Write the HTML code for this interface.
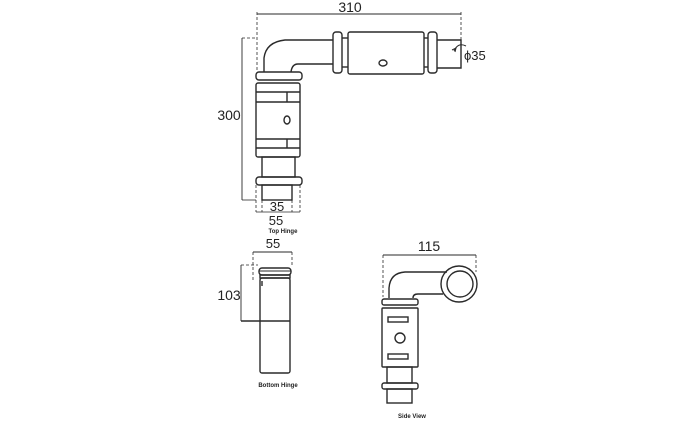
<!DOCTYPE html>
<html><head><style>
html,body{margin:0;padding:0;background:#fff;width:700px;height:426px;overflow:hidden}
svg{display:block}
text{font-family:"Liberation Sans",sans-serif;fill:#222}
</style></head><body>
<svg width="700" height="426" viewBox="0 0 700 426" xmlns="http://www.w3.org/2000/svg">
<g fill="none" stroke="#2a2a2a" stroke-width="1.4">
<!-- TOP HINGE -->
<line x1="257" y1="14" x2="461" y2="14" stroke-width="0.9"/>
<line x1="257" y1="12" x2="257" y2="72" stroke-dasharray="3,2" stroke-width="0.8"/>
<line x1="461" y1="12" x2="461" y2="68" stroke-dasharray="3,2" stroke-width="0.8"/>
<path d="M264 72 L264 58 Q266 42 285 40 L333 40"/>
<path d="M291 72 Q292 64 298 64 L333 64"/>
<rect x="333" y="32" width="9" height="41" rx="3"/>
<line x1="342" y1="38" x2="348" y2="38"/><line x1="342" y1="67" x2="348" y2="67"/>
<rect x="348" y="32" width="76" height="42" rx="2"/>
<line x1="424" y1="38" x2="428" y2="38"/><line x1="424" y1="67" x2="428" y2="67"/>
<rect x="428" y="32" width="9" height="41" rx="3"/>
<path d="M437 40 L461 40 L461 68 L437 68"/>
<ellipse cx="383" cy="63" rx="4" ry="3"/>
<path d="M454 51 Q458 42 466 46" stroke-width="1"/>
<path d="M452 50 l4 -2 l-1 4" stroke-width="1"/>
<rect x="256" y="72" width="46" height="8" rx="3"/>
<rect x="256" y="83" width="44" height="74" rx="2"/>
<line x1="256" y1="92" x2="300" y2="92"/><line x1="256" y1="102" x2="300" y2="102"/>
<line x1="256" y1="139" x2="300" y2="139"/><line x1="256" y1="148" x2="300" y2="148"/>
<line x1="287" y1="92" x2="287" y2="102"/><line x1="287" y1="139" x2="287" y2="148"/>
<ellipse cx="287" cy="120" rx="3" ry="4"/>
<rect x="262" y="157" width="33" height="20"/>
<rect x="256" y="177" width="46" height="8" rx="3"/>
<rect x="262" y="185" width="30" height="15"/>
<line x1="242" y1="38" x2="242" y2="200" stroke-width="0.9"/>
<line x1="242" y1="38" x2="256" y2="38" stroke-dasharray="3,2" stroke-width="0.8"/>
<line x1="242" y1="200" x2="256" y2="200" stroke-width="0.8"/>
<line x1="256" y1="185" x2="256" y2="212" stroke-dasharray="3,2" stroke-width="0.8"/>
<line x1="300" y1="185" x2="300" y2="212" stroke-dasharray="3,2" stroke-width="0.8"/>
<line x1="262" y1="200" x2="262" y2="212" stroke-dasharray="3,2" stroke-width="0.8"/>
<line x1="292" y1="200" x2="292" y2="212" stroke-dasharray="3,2" stroke-width="0.8"/>
<line x1="256" y1="212" x2="300" y2="212" stroke-width="0.8"/>
<!-- BOTTOM HINGE -->
<line x1="253" y1="252" x2="292" y2="252" stroke-width="0.9"/>
<line x1="253" y1="252" x2="253" y2="280" stroke-dasharray="3,2" stroke-width="0.8"/>
<line x1="292" y1="252" x2="292" y2="266" stroke-dasharray="3,2" stroke-width="0.8"/>
<line x1="241" y1="265" x2="241" y2="321" stroke-width="0.9"/>
<line x1="241" y1="265" x2="258" y2="265" stroke-dasharray="3,2" stroke-width="0.8"/>
<line x1="241" y1="321" x2="290" y2="321"/>
<rect x="259" y="268" width="32" height="7" rx="3"/>
<line x1="259" y1="271" x2="291" y2="271" stroke-width="1"/>
<rect x="260" y="275" width="30" height="3"/>
<rect x="260" y="278" width="30" height="95" rx="2"/>
<line x1="262" y1="281" x2="262" y2="286"/>
<!-- SIDE VIEW -->
<line x1="383" y1="255" x2="476" y2="255" stroke-width="0.9"/>
<line x1="383" y1="255" x2="383" y2="297" stroke-dasharray="3,2" stroke-width="0.8"/>
<line x1="476" y1="255" x2="476" y2="272" stroke-dasharray="3,2" stroke-width="0.8"/>
<path d="M389 298 L389 288 Q390 273 405 272 L447 272"/>
<path d="M413 298 Q413 294 418 294 L443 294"/>
<circle cx="459" cy="284" r="18"/>
<circle cx="460" cy="284" r="13"/>
<rect x="382" y="299" width="36" height="6" rx="2"/>
<rect x="382" y="308" width="36" height="59" rx="1"/>
<rect x="388" y="317" width="20" height="5"/>
<rect x="388" y="354" width="20" height="5"/>
<circle cx="400" cy="338" r="5"/>
<rect x="387" y="367" width="25" height="16"/>
<rect x="382" y="383" width="36" height="6" rx="2"/>
<rect x="387" y="389" width="25" height="14"/>
</g>
<text x="350" y="12" font-size="14" text-anchor="middle">310</text>
<text x="464" y="60" font-size="13">ϕ35</text>
<text x="229" y="120" font-size="14" text-anchor="middle">300</text>
<text x="277" y="211" font-size="13" text-anchor="middle">35</text>
<text x="276" y="225" font-size="13" text-anchor="middle">55</text>
<text x="283" y="233" font-size="6" font-weight="bold" text-anchor="middle">Top Hinge</text>
<text x="273" y="248" font-size="13" text-anchor="middle">55</text>
<text x="229" y="300" font-size="14" text-anchor="middle">103</text>
<text x="278" y="387" font-size="6" font-weight="bold" text-anchor="middle">Bottom Hinge</text>
<text x="429" y="251" font-size="14" text-anchor="middle">115</text>
<text x="412" y="418" font-size="6" font-weight="bold" text-anchor="middle">Side View</text>
</svg>
</body></html>
